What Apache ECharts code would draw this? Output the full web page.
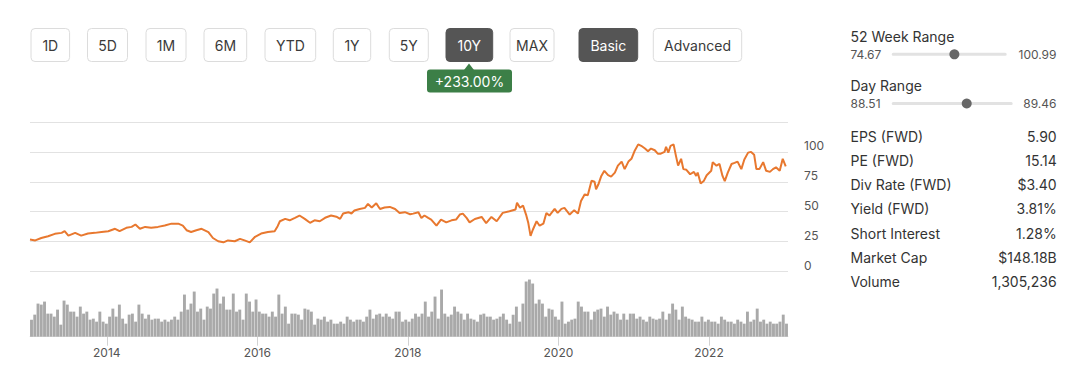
<!DOCTYPE html>
<html><head><meta charset="utf-8">
<script src="https://cdn.jsdelivr.net/npm/echarts@6/dist/echarts.min.js"></script>
<style>html,body{margin:0;padding:0;background:#fff}#c{width:1080px;height:371px}</style>
</head><body><div id="c"></div>
<script>
// ---------- data ----------
const buttonLabels = ['1D','5D','1M','6M','YTD','1Y','5Y','10Y','MAX','Basic','Advanced'];
const activeButtons = ['10Y','Basic'];
const changeLabel = '+233.00%';
const rangeTitles = ['52 Week Range','Day Range'];
const rangeLow = ['74.67','88.51'];
const rangeHigh = ['100.99','89.46'];
const rangePos = [0.545, 0.62];
const statLabels = ['EPS (FWD)','PE (FWD)','Div Rate (FWD)','Yield (FWD)','Short Interest','Market Cap','Volume'];
const statValues = ['5.90','15.14','$3.40','3.81%','1.28%','$148.18B','1,305,236'];
const yearTickLabels = ['2014','2016','2018','2020','2022'];
const priceYears = [
2012.98,2013.05,2013.13,2013.22,2013.31,2013.40,2013.44,2013.49,2013.58,2013.66,2013.75,2013.84,2013.93,
2014.02,2014.11,2014.17,2014.26,2014.33,2014.38,2014.44,2014.51,2014.59,2014.68,2014.77,2014.86,2014.95,
2015.01,2015.06,2015.12,2015.19,2015.26,2015.35,2015.41,2015.48,2015.55,2015.61,2015.70,2015.77,2015.83,2015.90,2015.97,
2016.05,2016.14,2016.23,2016.27,2016.30,2016.37,2016.43,2016.50,2016.56,2016.63,2016.70,2016.76,2016.83,2016.90,2016.98,
2017.05,2017.10,2017.14,2017.21,2017.25,2017.29,2017.36,2017.43,2017.47,2017.52,2017.58,2017.63,2017.69,2017.76,2017.83,2017.89,2017.96,
2018.03,2018.07,2018.14,2018.18,2018.22,2018.27,2018.31,2018.38,2018.44,2018.51,2018.58,2018.64,2018.69,2018.73,2018.78,2018.82,2018.89,2018.98,
2019.04,2019.11,2019.18,2019.26,2019.35,2019.43,2019.45,2019.49,2019.53,2019.57,2019.60,2019.63,2019.66,2019.71,2019.75,2019.80,2019.84,2019.88,2019.95,2019.99,
2020.04,2020.08,2020.15,2020.21,2020.26,2020.30,2020.35,2020.39,2020.44,2020.48,2020.50,2020.53,2020.57,2020.61,2020.66,2020.70,2020.75,2020.79,2020.84,2020.88,2020.93,2020.97,
2021.01,2021.06,2021.10,2021.15,2021.19,2021.23,2021.28,2021.32,2021.36,2021.41,2021.43,2021.46,2021.49,2021.53,2021.56,2021.59,2021.63,2021.66,2021.70,2021.75,2021.80,2021.83,2021.85,2021.89,2021.93,2021.97,
2022.03,2022.05,2022.10,2022.14,2022.18,2022.21,2022.25,2022.30,2022.34,2022.38,2022.43,2022.47,2022.52,2022.56,2022.60,2022.63,2022.67,2022.72,2022.76,2022.81,2022.85,2022.89,2022.94,2022.98,2023.02
];
const priceValues = [
26.7,26,28,29.5,31.5,32.3,33.7,30,32.3,30,31.8,32.3,33,
33.7,35.7,33.7,36.5,37.3,39.3,35.7,37.3,36.5,37.3,38.4,40,40,
38.4,34.5,33,34.5,35.7,33,28,25.3,24.4,26,25.3,27.3,26,24.4,29,
31.7,33,33.7,37.9,42,44,42.8,44.9,46.8,44,40.7,42.8,42,44.9,46.8,
45.8,44,48.5,49.6,48.5,51,52.3,53.2,56.5,53.5,57,52.3,53.5,54,52.3,49,49.6,
47.9,48.4,49.6,44.8,46.8,44.8,43.4,38.3,43.4,41.1,42.8,43.4,47.6,48.4,44.8,41.1,43.9,45.6,
40.5,45.6,42,49,50.4,51.8,57.5,53.3,55.2,47.6,40.5,29.8,34.9,42,38.3,40,49,46.8,52.4,49,
52.4,53.2,47.6,51.3,48.4,58.9,64.5,63.7,75.9,75,68.8,72.7,79.9,84.2,80.5,79.3,82.7,88.5,91.9,85.6,91.9,94.2,
100.5,106.3,105.1,102.8,100.5,102.8,101.4,98.5,98.5,100,104.3,99.4,105.1,106.3,97.1,88.5,94.2,85.6,85,81.3,83.3,79.9,82.7,73.6,75.6,80.5,
84.2,91.4,88.5,89.9,79.9,75.6,82.7,89.9,90.8,91.9,85.6,93.7,99.4,100,97.7,85.6,85.6,91.4,84.2,83.3,85.6,87.1,84.2,94.2,88
];
const volume = [17,22,33,32,35,23,23,20,27,12,36,32,25,25,20,30,23,25,17,18,15,25,15,13,20,28,20,32,18,13,22,23,15,32,23,18,22,17,18,18,15,17,15,17,20,17,25,42,27,33,45,25,28,17,30,28,43,48,33,40,27,27,43,25,27,17,43,35,25,37,25,23,23,20,25,20,42,23,30,13,23,23,22,17,28,27,25,12,18,17,20,15,17,13,13,15,13,20,17,15,17,17,15,20,27,18,22,23,20,23,20,18,25,25,15,17,15,18,23,
20,23,35,20,25,40,18,47,23,20,22,30,25,23,17,23,18,17,15,22,23,20,20,17,18,20,23,17,13,22,30,15,33,55,57,53,33,37,33,20,28,27,20,17,35,13,15,17,18,35,30,25,25,17,25,27,28,20,30,22,25,23,17,23,17,23,23,18,20,17,15,20,18,17,18,25,17,23,33,27,17,30,20,18,17,15,15,20,15,17,15,15,13,20,17,15,15,13,17,15,13,25,15,17,28,15,17,13,15,13,13,15,22,13];
const volumeStartYear = 2013.0, volumeEndYear = 2023.03;

// ---------- layout ----------
const FONT = 'Inter, "Noto Sans", sans-serif';
const buttonBoxes = [[31,38.6],[87.5,40],[146,40],[204,42.7],[265,50.7],[333.3,37.4],[389.3,39],[446,46.7],[510,44],[579,58.7],[653.3,88.4]];
const priceData = priceYears.map((y,i)=>[y, priceValues[i]]);
const volStep = (volumeEndYear - volumeStartYear)/(volume.length-1);
const volData = volume.map((v,i)=>[volumeStartYear + i*volStep, v]);
const tickVals = yearTickLabels.map(Number);

const g = [];
buttonLabels.forEach((lab,i)=>{
  const [x,w] = buttonBoxes[i];
  const on = activeButtons.includes(lab);
  g.push({type:'rect', shape:{x:x, y:28.5, width:w, height:33, r:4},
    style:{fill: on?'#555555':'#ffffff', stroke: on?'#555555':'#dcdcdc', lineWidth:1}});
  g.push({type:'text', x:x+w/2, y:45, style:{text:lab, fill:on?'#ffffff':'#3a3a3a', font:'14px '+FONT, textAlign:'center', textVerticalAlign:'middle'}});
});
g.push({type:'polygon', shape:{points:[[464,70],[474,70],[469,63.5]]}, style:{fill:'#3c7f47'}});
g.push({type:'rect', shape:{x:427, y:69.5, width:85, height:23, r:3}, style:{fill:'#3c7f47'}});
g.push({type:'text', x:469.5, y:81.5, style:{text:changeLabel, fill:'#ffffff', font:'14px '+FONT, textAlign:'center', textVerticalAlign:'middle'}});

const rangeY = [36.5, 85.7];
const trackEnd = [1006.7, 1012.7];
rangeTitles.forEach((t,i)=>{
  const y0 = rangeY[i];
  g.push({type:'text', x:850.5, y:y0, style:{text:t, fill:'#333333', font:'14px '+FONT, textAlign:'left', textVerticalAlign:'middle'}});
  g.push({type:'text', x:850.5, y:y0+17.8, style:{text:rangeLow[i], fill:'#555555', font:'12px '+FONT, textAlign:'left', textVerticalAlign:'middle'}});
  g.push({type:'text', x:1056.5, y:y0+17.8, style:{text:rangeHigh[i], fill:'#555555', font:'12px '+FONT, textAlign:'right', textVerticalAlign:'middle'}});
  const x1 = 891.7, x2 = trackEnd[i];
  g.push({type:'rect', shape:{x:x1, y:y0+16.3, width:x2-x1, height:3, r:1.5}, style:{fill:'#e2e2e2'}});
  g.push({type:'circle', shape:{cx:x1+(x2-x1)*rangePos[i], cy:y0+17.8, r:5}, style:{fill:'#676767'}});
});
const statY = [136,160.3,184.6,208.9,233.2,257.5,281.8];
statLabels.forEach((lab,i)=>{
  g.push({type:'text', x:850.5, y:statY[i], style:{text:lab, fill:'#333333', font:'14px '+FONT, textAlign:'left', textVerticalAlign:'middle'}});
  g.push({type:'text', x:1056.7, y:statY[i], style:{text:statValues[i], fill:'#333333', font:'14px '+FONT, textAlign:'right', textVerticalAlign:'middle'}});
});

const chart = echarts.init(document.getElementById('c'), null, {renderer:'svg'});
chart.setOption({
  animation:false,
  backgroundColor:'#ffffff',
  textStyle:{fontFamily:FONT},
  grid:[
    {left:30, right:292, top:122, height:149.5},
    {left:30, right:292, top:271.5, height:65.2}
  ],
  xAxis:[
    {type:'value', gridIndex:0, min:2012.98, max:2023.05, show:false},
    {type:'value', gridIndex:1, min:2012.98, max:2023.05,
      axisLine:{show:true, lineStyle:{color:'#e6e6e6'}},
      splitLine:{show:false},
      axisTick:{show:true, customValues:tickVals, length:9, lineStyle:{color:'#d2d2d2'}},
      axisLabel:{customValues:tickVals, formatter:(v)=>String(Math.round(v)), margin:10, color:'#555555', fontSize:12, fontFamily:FONT}}
  ],
  yAxis:[
    {type:'value', gridIndex:0, position:'right', min:0, max:125, interval:25,
      axisLine:{show:false}, axisTick:{show:false},
      splitLine:{lineStyle:{color:'#e2e2e2', width:1}},
      axisLabel:{showMaxLabel:false, margin:16, color:'#555555', fontSize:12, fontFamily:FONT, verticalAlign:'bottom', align:'left'}},
    {type:'value', gridIndex:1, min:0, max:65, show:false, splitLine:{show:false}}
  ],
  series:[
    {type:'line', xAxisIndex:0, yAxisIndex:0, data:priceData, showSymbol:false, symbol:'none',
      lineStyle:{color:'#e8782f', width:2}},
    {type:'bar', xAxisIndex:1, yAxisIndex:1, data:volData, barWidth:2.9, itemStyle:{color:'#a9a9a9'}}
  ],
  graphic:g
});
</script></body></html>
